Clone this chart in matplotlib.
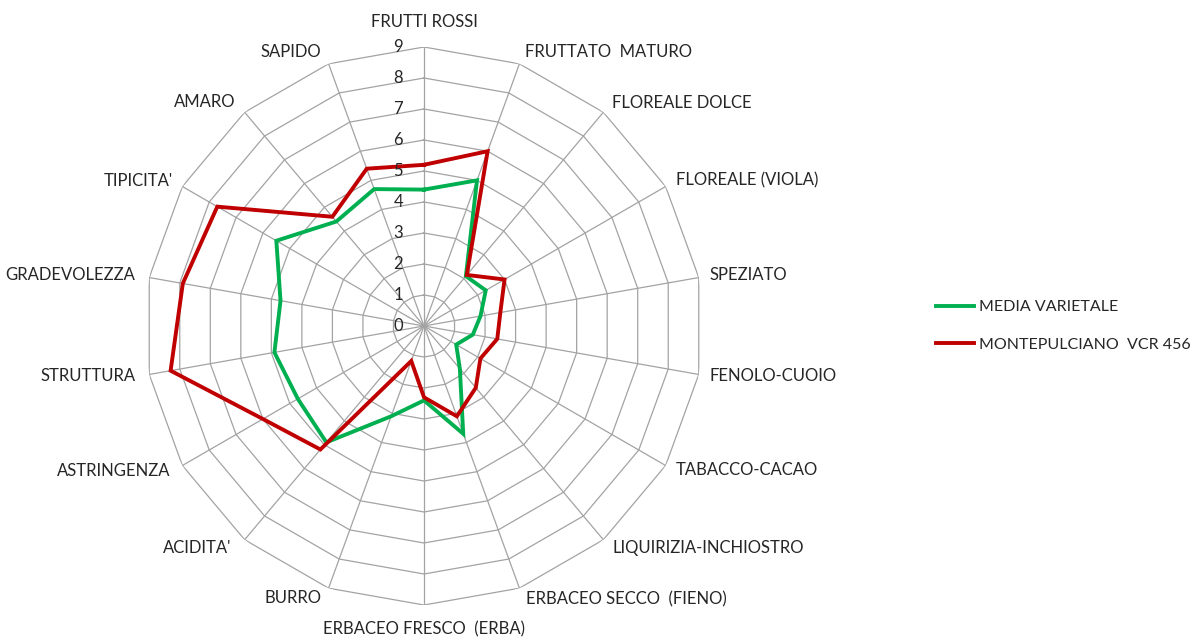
import numpy as np
import matplotlib
matplotlib.use("Agg")
import matplotlib.pyplot as plt
from matplotlib.lines import Line2D

plt.rcParams['font.family'] = ['Lato', 'DejaVu Sans']

categories = ["FRUTTI ROSSI", "FRUTTATO  MATURO", "FLOREALE DOLCE", "FLOREALE (VIOLA)",
              "SPEZIATO", "FENOLO-CUOIO", "TABACCO-CACAO", "LIQUIRIZIA-INCHIOSTRO",
              "ERBACEO SECCO  (FIENO)", "ERBACEO FRESCO  (ERBA)", "BURRO", "ACIDITA'",
              "ASTRINGENZA", "STRUTTURA", "GRADEVOLEZZA", "TIPICITA'", "AMARO", "SAPIDO"]
media_varietale = [4.4, 5.0, 2.1, 2.3, 1.85, 1.6, 1.2, 1.8, 3.7, 2.4, 3.1, 4.9,
                   4.7, 4.9, 4.7, 5.5, 4.4, 4.7]
montepulciano = [5.2, 6.0, 2.15, 3.0, 2.5, 2.4, 2.1, 2.6, 3.1, 2.3, 1.2, 5.2,
                 6.0, 8.3, 7.9, 7.7, 4.6, 5.4]
series_names = ["MEDIA VARIETALE", "MONTEPULCIANO  VCR 456"]
radial_ticks = [0, 1, 2, 3, 4, 5, 6, 7, 8, 9]

W, H, DPI = 1196, 638, 100
fig = plt.figure(figsize=(W / DPI, H / DPI), dpi=DPI)
cx, cy, R = 424, 326, 279
ax = fig.add_axes([(cx - R) / W, (H - cy - R) / H, 2 * R / W, 2 * R / H], projection='polar')
ax.set_theta_zero_location('N')
ax.set_theta_direction(-1)
ax.set_ylim(0, 9)
ax.grid(False)
ax.spines['polar'].set_visible(False)
ax.set_xticks([])
ax.set_yticks([])
ax.patch.set_alpha(0)

n = len(categories)
theta = np.arange(n) * 2 * np.pi / n
theta_c = np.append(theta, theta[0])

grid_col = '#A3A3A3'
for r in radial_ticks[1:]:
    ax.plot(theta_c, [r] * (n + 1), color=grid_col, lw=0.9, zorder=1)
for t in theta:
    ax.plot([t, t], [0, 9], color=grid_col, lw=0.9, zorder=1)

green = '#00B050'
red = '#C00000'
l1, = ax.plot(theta_c, np.append(media_varietale, media_varietale[0]), color=green, lw=2.8,
              zorder=3, solid_joinstyle='miter')
l2, = ax.plot(theta_c, np.append(montepulciano, montepulciano[0]), color=red, lw=2.8,
              zorder=4, solid_joinstyle='miter')

fs = 12
text_col = '#262626'
for r in radial_ticks:
    ax.annotate(str(r), xy=(0, r), xytext=(-21, 0), textcoords='offset pixels',
                ha='right', va='center', fontsize=fs, color=text_col, zorder=5)

# label offsets (pixels) from spoke ends
offsets = [(0, 25, 'center'), (6, 12, 'left'), (9, 9, 'left'), (10, 6, 'left'),
           (11, 3, 'left'), (11, -2, 'left'), (10, -5, 'left'), (9, -8, 'left'),
           (7, -11, 'left'), (0, -24, 'center'), (-7, -10, 'right'), (-13, -8, 'right'),
           (-12, -5, 'right'), (-14, -2, 'right'), (-14, 3, 'right'), (-10, 6, 'right'),
           (-9, 10, 'right'), (-7, 12, 'right')]
for t, lab, (dx, dy, ha) in zip(theta, categories, offsets):
    ax.annotate(lab, xy=(t, 9), xytext=(dx, dy), textcoords='offset pixels',
                ha=ha, va='center', fontsize=fs, color=text_col, annotation_clip=False)

lfs = 11.5
h = [Line2D([], [], color=green, lw=2.8), Line2D([], [], color=red, lw=2.8)]
leg = fig.legend(h, series_names, loc='upper left', bbox_to_anchor=(936 / W, 1 - 300 / H),
                 frameon=False, fontsize=lfs, handlelength=2.4, handletextpad=0.3,
                 labelspacing=1.45, labelcolor=text_col, borderpad=0, borderaxespad=0)

fig.savefig('out.png', dpi=DPI)
